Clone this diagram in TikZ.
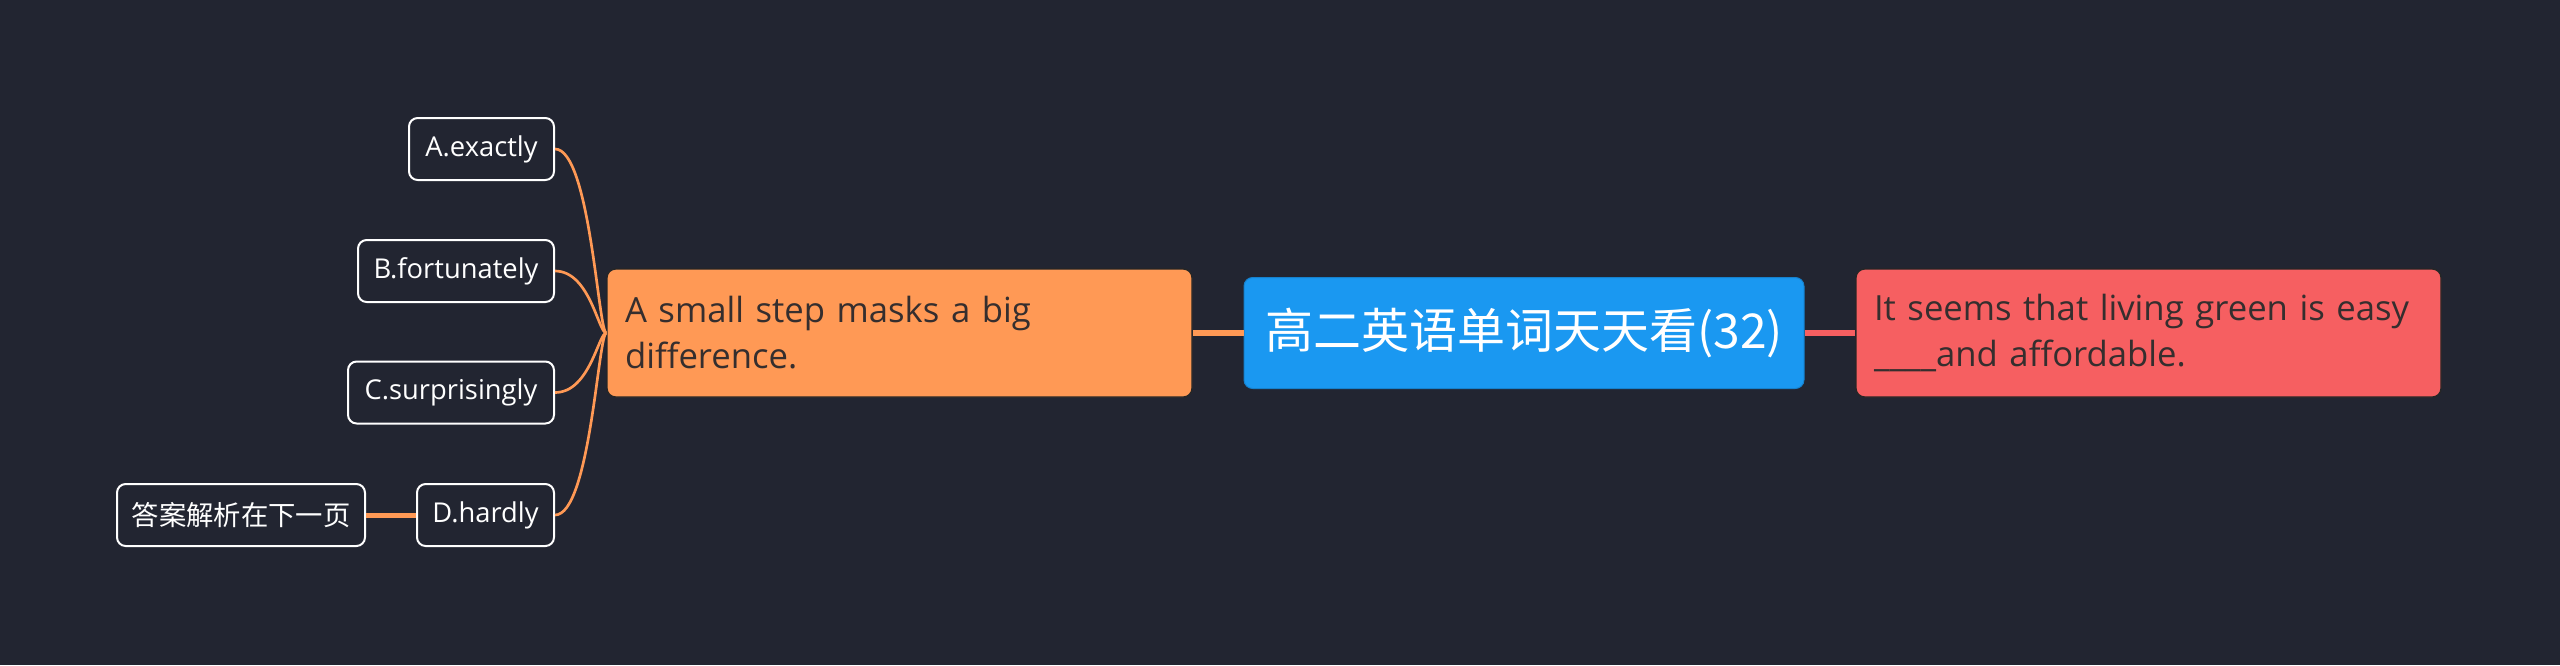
\documentclass[tikz,border=0pt]{standalone}
\usepackage{fontspec}
\setmainfont{Open Sans}
\newfontfamily\cjk{Noto Sans CJK SC}
\usepackage{xcolor}
\definecolor{bgdark}{HTML}{222531}
\definecolor{topicblue}{HTML}{1A98F1}
\definecolor{branchorange}{HTML}{FF9955}
\definecolor{branchred}{HTML}{F65F61}
\definecolor{textdark}{HTML}{352E2E}

\begin{document}
\begin{tikzpicture}[x=0.3pt, y=-0.3pt,
    topic/.style={rounded corners=2.6pt, fill=topicblue, draw=topicblue!85!black, line width=0.3pt,
        minimum width=168pt, minimum height=33.3pt, text=white, font=\cjk\fontsize{14.4}{17}\selectfont},
    branch/.style={rounded corners=2.6pt, draw=black!85, line width=0.4pt, minimum height=38.4pt,
        text width=164.7pt, inner xsep=5.4pt, align=left, text=textdark, font=\fontsize{10.4}{13.8}\selectfont},
    leaf/.style={rounded corners=2.6pt, draw=white, line width=0.6pt, fill=bgdark, anchor=east,
        minimum height=18.6pt, inner xsep=3pt, text=white, font=\fontsize{8.2}{10}\selectfont},
    link/.style={line width=0.8pt, branchorange}]
    % background
    \fill[bgdark] (0,0) rectangle (2560,665);
    \useasboundingbox (0,0) rectangle (2560,665);

    % main topic and its two branches
    \node[topic] (topic) at (1524,333) {高二英语单词天天看(32)};
    \node[branch, fill=branchorange] (stem) at (899.5,333) {A small step masks a big\\difference.};
    \node[branch, fill=branchred] (question) at (2148.5,333) {It seems that living green is easy\\\_\_\_\_and affordable.};
    \draw[branchorange, line width=1.8pt] (topic.west) -- (stem.east);
    \draw[branchred, line width=1.8pt] (topic.east) -- (question.west);

    % options
    \node[leaf, minimum width=43.5pt] (optA) at (555,149) {A.exactly};
    \node[leaf, minimum width=58.8pt] (optB) at (555,271) {B.fortunately};
    \node[leaf, minimum width=61.8pt] (optC) at (555,392.5) {C.surprisingly};
    \node[leaf, minimum width=41.1pt] (optD) at (555,515) {D.hardly};
    \node[leaf, minimum width=74.4pt, font=\cjk\fontsize{8.2}{10}\selectfont] (answer) at (366,515) {答案解析在下一页};
    \foreach \opt in {optA, optB, optC, optD}
        \draw[link] (stem.west) .. controls +(-8,0) and +(35,0) .. (\opt.east);
    \draw[branchorange, line width=1.5pt] (optD.west) -- (answer.east);
\end{tikzpicture}
\end{document}
